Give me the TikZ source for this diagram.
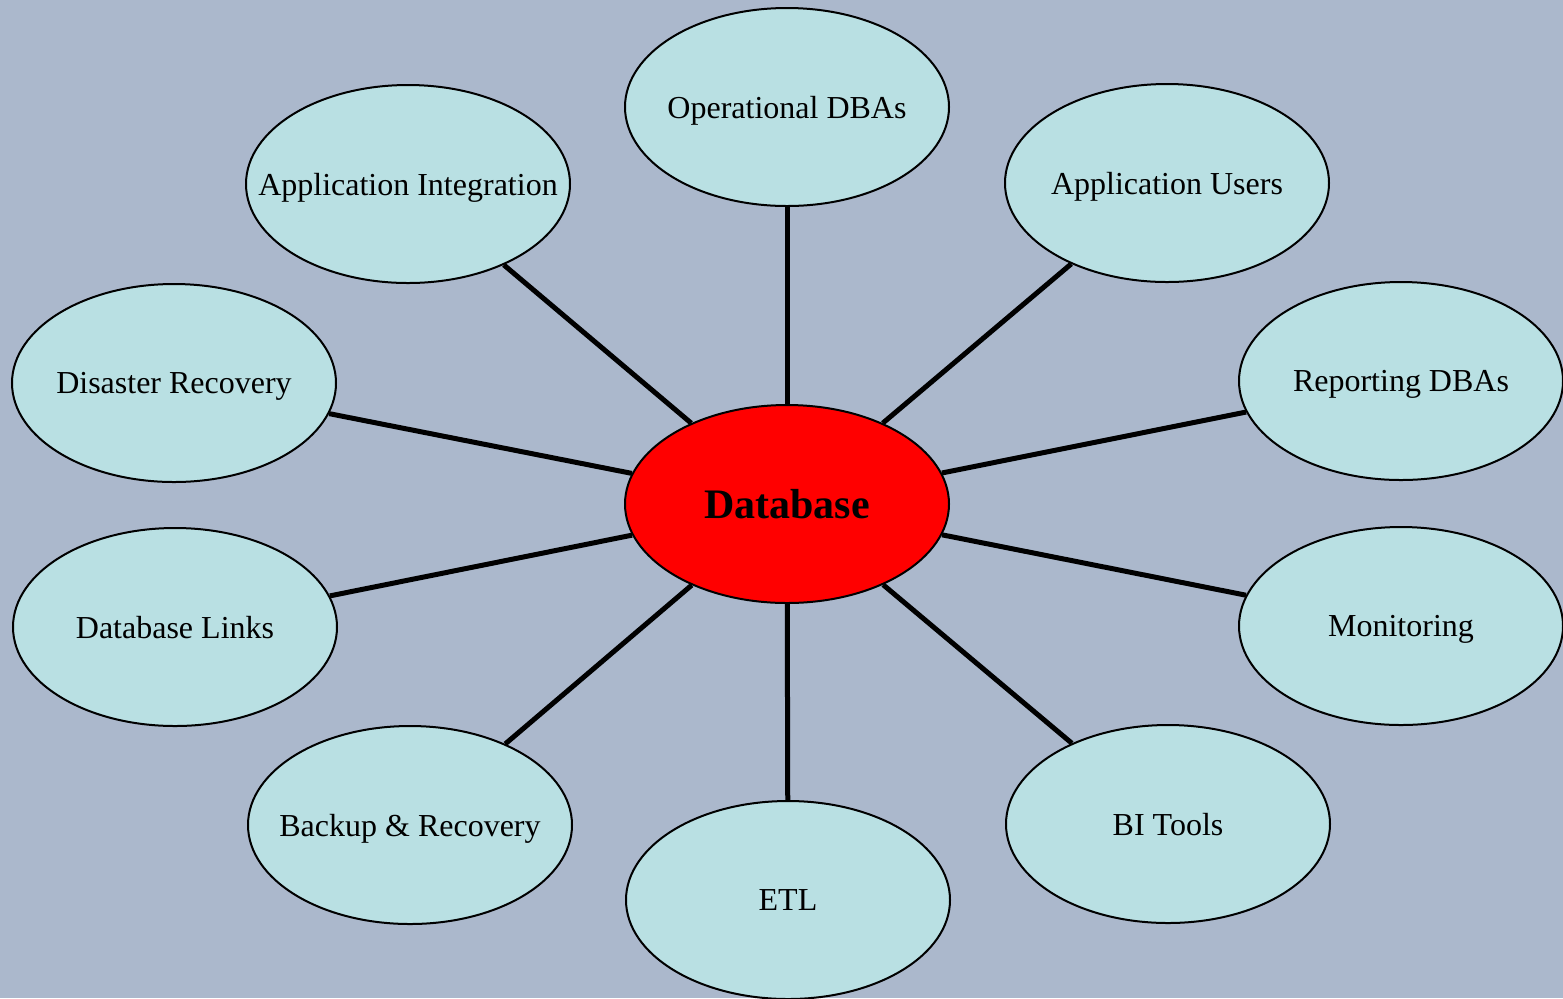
\documentclass[tikz,border=0pt]{standalone}
\usepackage{fontspec}
\setmainfont{Liberation Serif}
\usepackage{tikz}
\usetikzlibrary{shapes.geometric}

\definecolor{bgcol}{RGB}{171,184,204}
\definecolor{leafcol}{RGB}{185,224,227}
\definecolor{hubcol}{RGB}{255,0,0}

% text of a fixed size ellipse, kept from widening it
\newcommand{\ellabel}[1]{\makebox[0pt][c]{#1}}

\tikzset{
  leaf/.style={ellipse, draw=black, line width=1pt, fill=leafcol, minimum width=162pt, minimum height=99pt, inner sep=0pt, text depth=0pt, font=\fontsize{16}{19}\selectfont},
  hub/.style={leaf, fill=hubcol, font=\fontsize{21}{25}\selectfont\bfseries},
  spoke/.style={line width=2.5pt, black}
}

\begin{document}
\begin{tikzpicture}[x=0.5pt,y=0.5pt,yscale=-1,xscale=1]
    %set diagram to 1563 x 998
    \fill [bgcol] (0,0) rectangle (1563,998);
    \useasboundingbox (0,0) rectangle (1563,998);

    % Hub
    \node [hub] (db) at (787,504) {\ellabel{Database}};

    % Leaves
    \node [leaf] (ops) at (787,107) {\ellabel{Operational DBAs}};
    \node [leaf] (appint) at (408,184) {\ellabel{Application Integration}};
    \node [leaf] (appusers) at (1167,183) {\ellabel{Application Users}};
    \node [leaf] (dr) at (174,383) {\ellabel{Disaster Recovery}};
    \node [leaf] (rep) at (1401,381) {\ellabel{Reporting DBAs}};
    \node [leaf] (links) at (175,627) {\ellabel{Database Links}};
    \node [leaf] (mon) at (1401,626) {\ellabel{Monitoring}};
    \node [leaf] (backup) at (410,825) {\ellabel{Backup \& Recovery}};
    \node [leaf] (bi) at (1168,824) {\ellabel{BI Tools}};
    \node [leaf] (etl) at (788,900) {\ellabel{ETL}};

    % Spokes
    \foreach \leafname in {ops,appint,appusers,dr,rep,links,mon,backup,bi,etl}
      \draw [spoke] (db) -- (\leafname);

\end{tikzpicture}
\end{document}
